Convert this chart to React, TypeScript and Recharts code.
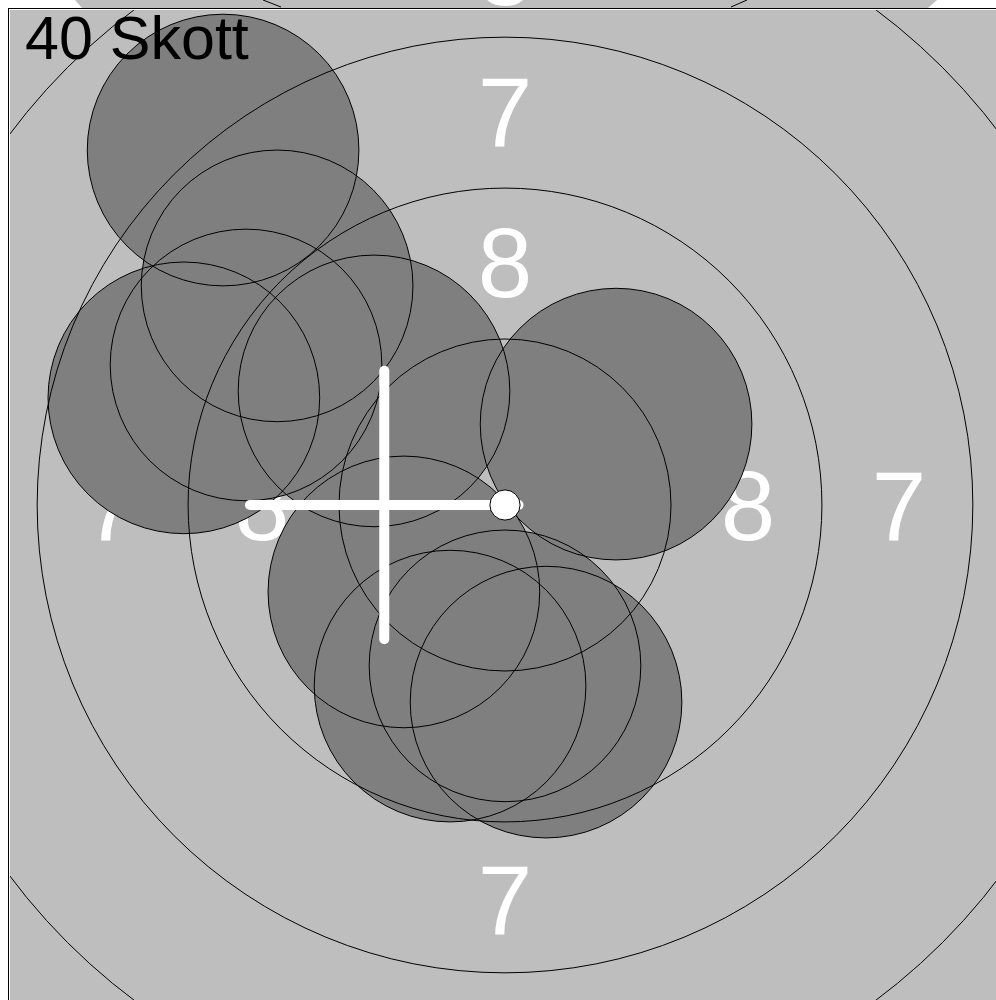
import React from 'react';
import { ScatterChart, Scatter, XAxis, YAxis, CartesianGrid } from 'recharts';

// target geometry in target units (1 unit ~ 3 px)
const RING_RADII = [55, 105, 155, 205];
const RING_LABELS = ['9', '8', '7'];
const LABEL_RADII = [30, 80.5, 130.5];
const CENTER_RADIUS = 5;

// shot holes
const SHOT_X = [-93.4, -75.5, -43.4, -106.4, -85.8, 36.8, -33.5, -18.2, 0, 13.6];
const SHOT_Y = [117.6, 72.6, 37.8, 35.5, 46.4, 26.8, -28.8, -60.0, -53.3, -65.3];
const SHOT_RADIUS = 45;

// mean point of impact
const MPI_X = -40;
const MPI_Y = 0;
const MPI_ARM = 44.5;

const SHOT_COUNT_TEXT = '40 Skott';

const DOMAIN = 164;
const CHART = 1010;
const MARGIN = 10;
const K = (CHART - 2 * MARGIN) / (2 * DOMAIN);

const BG = '#bebebe';
const SHOT_FILL = '#7f7f7f';
const FONT = '"Liberation Sans", Arial, sans-serif';

const shotData = SHOT_X.map((x, i) => ({ x, y: SHOT_Y[i] }));
const ringData = RING_RADII.map((r) => ({ x: 0, y: 0, r }));
const labelData = RING_LABELS.flatMap((t, i) => {
  const d = LABEL_RADII[i];
  return [
    { x: 0, y: d, t },
    { x: d, y: 0, t },
    { x: 0, y: -d, t },
    { x: -d, y: 0, t },
  ];
});

const LabelShape = (p: any) => (
  <text
    x={p.cx}
    y={p.cy + 35}
    textAnchor="middle"
    fill="#ffffff"
    fontSize={98}
    fontFamily={FONT}
  >
    {p.payload.t}
  </text>
);

const ShotFill = (p: any) => <circle cx={p.cx} cy={p.cy} r={SHOT_RADIUS * K} fill={SHOT_FILL} />;
const ShotOutline = (p: any) => (
  <circle cx={p.cx} cy={p.cy} r={SHOT_RADIUS * K} fill="none" stroke="#000" strokeWidth={1} />
);
const RingShape = (p: any) => (
  <circle cx={p.cx} cy={p.cy} r={p.payload.r * K} fill="none" stroke="#000" strokeWidth={1} />
);
const CrossShape = (p: any) => {
  const a = MPI_ARM * K;
  return (
    <g stroke="#fff" strokeWidth={10} strokeLinecap="round">
      <line x1={p.cx - a} y1={p.cy} x2={p.cx + a} y2={p.cy} />
      <line x1={p.cx} y1={p.cy - a} x2={p.cx} y2={p.cy + a} />
    </g>
  );
};
const CenterShape = (p: any) => (
  <circle cx={p.cx} cy={p.cy} r={CENTER_RADIUS * K} fill="#fff" stroke="#000" strokeWidth={1} />
);

export default function App() {
  return (
    <div
      style={{
        position: 'absolute',
        left: 0,
        top: 0,
        width: 996,
        height: 1000,
        overflow: 'hidden',
        background: '#fff',
      }}
    >
      {/* bottom edge of the previous target, peeking above the frame */}
      <svg width={996} height={8} style={{ position: 'absolute', left: 0, top: 0 }}>
        <polygon points="75,0 937,0 928,8 82,8" fill={BG} />
        <line x1={263} y1={0} x2={281} y2={7} stroke="#000" strokeWidth={1} />
        <line x1={731} y1={7} x2={747} y2={0} stroke="#000" strokeWidth={1} />
        <text x={505} y={5} textAnchor="middle" fill="#fff" fontSize={98} fontFamily={FONT}>
          8
        </text>
      </svg>
      <div style={{ position: 'absolute', left: 0, top: 0 }}>
        <ScatterChart
          width={CHART}
          height={CHART}
          margin={{ top: MARGIN, right: MARGIN, bottom: MARGIN, left: MARGIN }}
        >
          <CartesianGrid horizontal={false} vertical={false} fill={BG} stroke="none" />
          <XAxis type="number" dataKey="x" domain={[-DOMAIN, DOMAIN]} allowDataOverflow hide />
          <YAxis type="number" dataKey="y" domain={[-DOMAIN, DOMAIN]} allowDataOverflow hide />
          <Scatter data={labelData} shape={LabelShape} isAnimationActive={false} />
          <Scatter data={shotData} shape={ShotFill} isAnimationActive={false} />
          <Scatter data={shotData} shape={ShotOutline} isAnimationActive={false} />
          <Scatter data={ringData} shape={RingShape} isAnimationActive={false} />
          <Scatter data={[{ x: MPI_X, y: MPI_Y }]} shape={CrossShape} isAnimationActive={false} />
          <Scatter data={[{ x: 0, y: 0 }]} shape={CenterShape} isAnimationActive={false} />
        </ScatterChart>
      </div>
      <div
        style={{
          position: 'absolute',
          left: 8,
          top: 8,
          width: 1200,
          height: 1200,
          border: '1px solid #000',
          pointerEvents: 'none',
        }}
      />
      <div
        style={{
          position: 'absolute',
          left: 25,
          top: 63 - 61 * 0.905,
          fontFamily: FONT,
          fontSize: 61,
          lineHeight: '61px',
          color: '#000',
          whiteSpace: 'nowrap',
        }}
      >
        {SHOT_COUNT_TEXT}
      </div>
    </div>
  );
}
